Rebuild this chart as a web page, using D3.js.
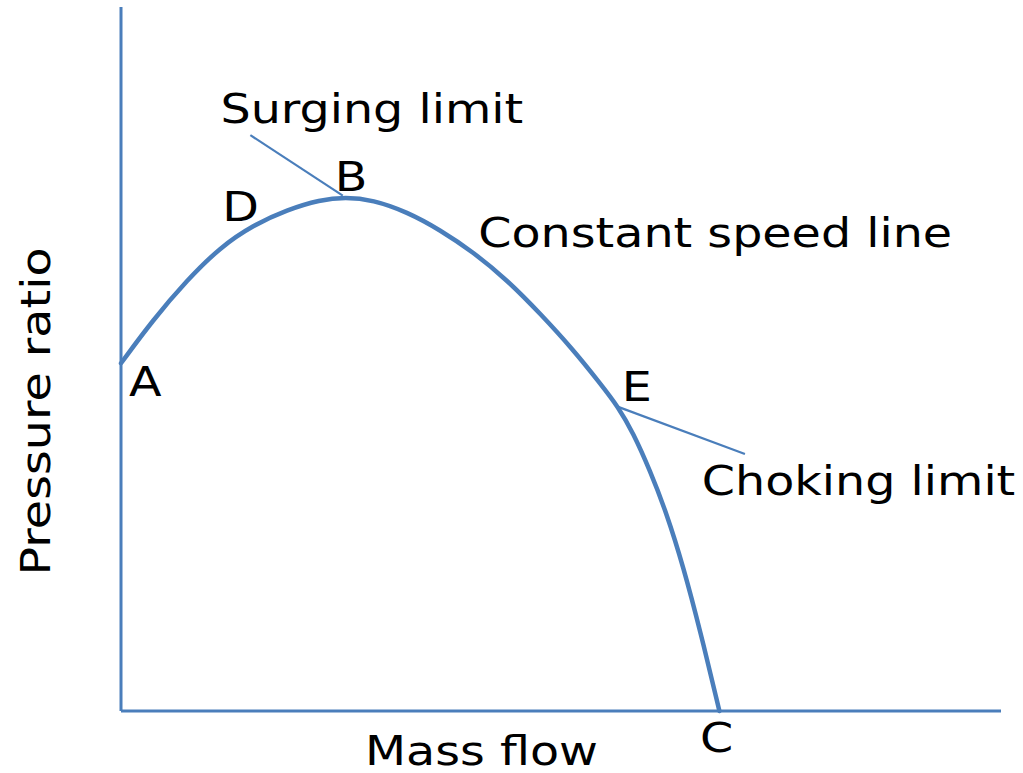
<!DOCTYPE html>
<html>
<head>
<meta charset="utf-8">
<script src="https://cdn.jsdelivr.net/npm/d3@7"></script>
<style>
  html, body { margin: 0; padding: 0; background: #fff; }
  svg { display: block; }
  text { font-family: "DejaVu Sans", Verdana, sans-serif; fill: #000; }
</style>
</head>
<body>
<svg id="chart" width="1023" height="773"></svg>
<script>
// Constant speed line (mass flow, pressure ratio) in arbitrary units
const massFlow = [0, 3.6, 7.5, 11.3, 15.0, 18.9, 22.6, 25.5, 28.6, 32.5, 36.3, 40.0, 43.9, 47.6, 51.4, 54.4, 56.5, 58.2, 60.1, 62.0, 63.9, 65.8, 68.0];
const pressureRatio = [49.4, 55.5, 61.2, 65.9, 69.0, 71.2, 72.6, 73.0, 72.6, 70.9, 68.3, 65.2, 61.2, 56.5, 51.3, 46.6, 43.2, 39.5, 34.2, 28.1, 20.5, 11.5, 0];

// Leader lines
const surgeLine = [[14.7, 81.8], [25.2, 73.2]];
const chokeLine = [[56.5, 43.2], [70.9, 36.5]];

// Point labels
const pointLabels = ["A", "B", "C", "D", "E"];
const pointX = [0.9, 24.3, 65.8, 11.5, 56.9];
const pointY = [44.7, 73.8, -5.8, 69.6, 44.1];

// Annotation texts
const noteLabels = ["Surging limit", "Constant speed line", "Choking limit"];
const noteX = [11.3, 40.6, 66.0];
const noteY = [83.5, 65.9, 30.7];

const xLabel = "Mass flow";
const yLabel = "Pressure ratio";

const svg = d3.select("#chart");
const x = d3.scaleLinear().domain([0, 100]).range([121, 1001]);
const y = d3.scaleLinear().domain([0, 100]).range([711, 7]);
const blue = "#4A7EBB";
const stretch = 1.19;

// axes
svg.append("line").attr("x1", x(0)).attr("x2", x(0)).attr("y1", y(0)).attr("y2", y(100))
  .attr("stroke", blue).attr("stroke-width", 3);
svg.append("line").attr("x1", x(0)).attr("x2", x(100)).attr("y1", y(0)).attr("y2", y(0))
  .attr("stroke", blue).attr("stroke-width", 3);

const pts = massFlow.map((m, i) => [m, pressureRatio[i]]);
const line = d3.line().x(d => x(d[0])).y(d => y(d[1])).curve(d3.curveBasis);
svg.append("path").attr("d", line(pts)).attr("fill", "none")
  .attr("stroke", blue).attr("stroke-width", 4.5).attr("stroke-linecap", "round");

const straight = d3.line().x(d => x(d[0])).y(d => y(d[1]));
[surgeLine, chokeLine].forEach(l => {
  svg.append("path").attr("d", straight(l)).attr("fill", "none")
    .attr("stroke", blue).attr("stroke-width", 2.2);
});

function label(t, px, py, rot) {
  svg.append("text")
    .attr("transform", `translate(${px},${py})` + (rot ? ` rotate(${rot})` : "") + ` scale(${stretch},1)`)
    .attr("text-anchor", rot ? "middle" : "start")
    .attr("font-size", 40).text(t);
}

pointLabels.forEach((t, i) => label(t, x(pointX[i]), y(pointY[i])));
noteLabels.forEach((t, i) => label(t, x(noteX[i]), y(noteY[i])));

label(xLabel, 365, 765);
label(yLabel, 50, 411.5, -90);
</script>
</body>
</html>
